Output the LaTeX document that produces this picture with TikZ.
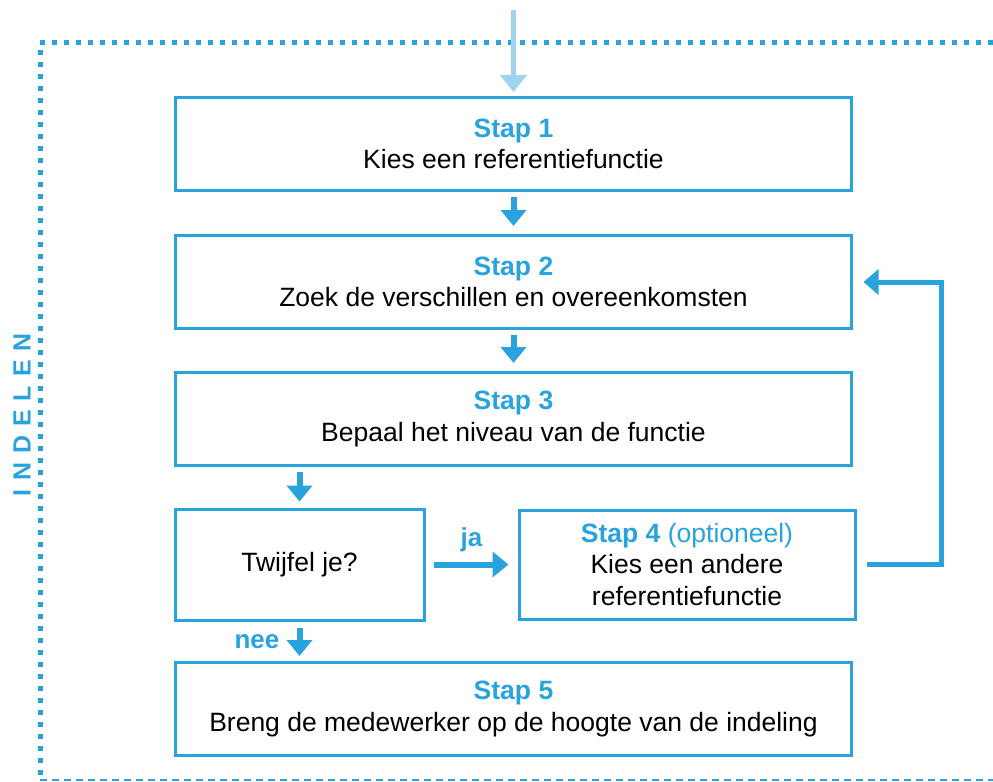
\documentclass[tikz,border=0pt]{standalone}
\usepackage{fontspec}
\setmainfont{Liberation Sans}
\usetikzlibrary{arrows.meta}
\definecolor{stapblue}{RGB}{41,163,221}
\definecolor{stapbluelight}{RGB}{160,212,238}
\begin{document}
\begin{tikzpicture}[
  x=1bp, y=-1bp,
  stapbox/.style={
    draw=stapblue, line width=3bp, fill=white,
    minimum width=675bp, minimum height=93bp,
    inner sep=0pt, align=center,
    font=\fontsize{26.6}{31.5}\selectfont
  },
  flow/.style={
    draw=stapblue, line width=6bp,
    -{Triangle[length=16bp,width=25bp]},
    shorten <=5bp, shorten >=7bp
  },
  label/.style={font=\fontsize{26}{31}\selectfont\bfseries, text=stapblue},
  frame/.style={draw=stapblue, line width=5bp, dash pattern=on 5bp off 7bp}
]
\useasboundingbox (0,0) rectangle (993,782);

% ================= FRAME INDELEN =================
\draw[frame] (40,43) -- (1000,43);
\draw[frame] (40,50) -- (40,782);
\draw[draw=stapblue, line width=2bp, dash pattern=on 7bp off 5bp] (40,780) -- (1000,780);

\node[label, font=\fontsize{25}{28}\selectfont\bfseries, rotate=90] (indelen) at (22,415)
  {I\hspace{9bp}N\hspace{9bp}D\hspace{9bp}E\hspace{9bp}L\hspace{9bp}E\hspace{9bp}N};

% ================= STAPPEN =================
\node[stapbox] (stap1) at (513.5,144) {\textbf{\textcolor{stapblue}{Stap 1}}\\Kies een referentiefunctie};
\node[stapbox] (stap2) at (513.5,282) {\textbf{\textcolor{stapblue}{Stap 2}}\\Zoek de verschillen en overeenkomsten};
\node[stapbox] (stap3) at (513.5,419) {\textbf{\textcolor{stapblue}{Stap 3}}\\Bepaal het niveau van de functie};

\node[stapbox, minimum width=249bp, minimum height=111bp] (twijfel) at (299.5,564.5) {Twijfel je?};
\node[stapbox, minimum width=336bp, minimum height=109bp] (stap4) at (687,564.5)
  {\textcolor{stapblue}{\textbf{Stap 4} (optioneel)}\\Kies een andere\\referentiefunctie};

\node[stapbox] (stap5) at (513.5,709) {\textbf{\textcolor{stapblue}{Stap 5}}\\Breng de medewerker op de hoogte van de indeling};

% ================= PIJLEN =================
\coordinate (start) at (513.5,10);
\draw[draw=stapbluelight, line width=5bp, -{Triangle[length=17bp,width=26bp]}, shorten >=4bp]
  (start) -- (stap1.north);

\draw[flow, shorten >=8bp] (stap1) -- (stap2);
\draw[flow, shorten >=8bp] (stap2) -- (stap3);
\draw[flow, shorten >=6bp] (stap3.south -| twijfel.north) -- (twijfel.north);

\draw[flow, shorten <=8bp, shorten >=9bp]
  (twijfel) -- node[label, above=6bp] {ja} (stap4);
\draw[flow, shorten <=6bp, shorten >=5bp]
  (twijfel.south) -- node[label, left=14bp] {nee} (twijfel.south |- stap5.north);

\draw[draw=stapblue, line width=5bp, -{Triangle[length=15bp,width=25bp]},
  shorten <=10bp, shorten >=11bp]
  (stap4.east) -- ++(85,0) |- (stap2.east);

\end{tikzpicture}
\end{document}
